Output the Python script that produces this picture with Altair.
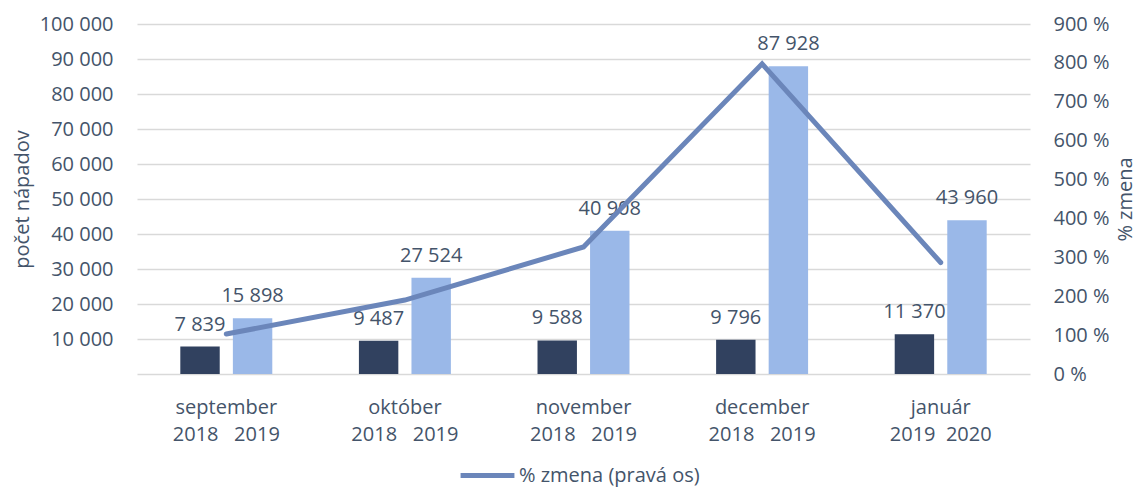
import altair as alt
import pandas as pd

# ---- data ----
months = ["september", "október", "november", "december", "január"]
NB = "\u00a0"
year_pairs = ["2018" + NB * 3 + "2019", "2018" + NB * 3 + "2019", "2018" + NB * 3 + "2019",
              "2018" + NB * 3 + "2019", "2019" + NB * 2 + "2020"]
series = ["predchádzajúci rok", "aktuálny rok"]
prev_values = [7839, 9487, 9588, 9796, 11370]
curr_values = [15898, 27524, 40908, 87928, 43960]
pct_change = [102.8, 190.1, 326.7, 797.6, 286.6]
left_ticks = list(range(0, 100001, 10000))
right_ticks = list(range(0, 901, 100))
legend_label = "% zmena (pravá os)"

# ---- tables ----
cats = [f"{m}|{y}" for m, y in zip(months, year_pairs)]
rows = []
for c, p, v in zip(cats, prev_values, curr_values):
    rows.append({"cat": c, "series": series[0], "value": p})
    rows.append({"cat": c, "series": series[1], "value": v})
bars_df = pd.DataFrame(rows)
line_df = pd.DataFrame({"cat": cats, "pct": pct_change, "leg": [legend_label] * len(cats)})

TEXT = "#44546A"
FONT = "Open Sans"
FS = 20

x_enc = alt.X(
    "cat:N", sort=cats,
    scale=alt.Scale(paddingInner=0.485, paddingOuter=0.2425),
    axis=alt.Axis(title=None, labelExpr="split(datum.label, '|')", labelAngle=0,
                  labelPadding=23, labelLineHeight=27, domain=False, ticks=False,
                  grid=False),
)
xoff = alt.XOffset("series:N", sort=series,
                   scale=alt.Scale(paddingInner=0.25, paddingOuter=0))
y_left = alt.Y(
    "value:Q", scale=alt.Scale(domain=[0, 100000]),
    axis=alt.Axis(title="počet nápadov", values=left_ticks,
                  labelExpr="datum.value == 0 ? '' : replace(format(datum.value, ','), ',', ' ')",
                  labelPadding=24, titlePadding=7, domain=False, ticks=False,
                  grid=True),
)

bars = alt.Chart(bars_df).mark_bar().encode(
    x=x_enc, xOffset=xoff, y=y_left,
    color=alt.Color("series:N", sort=series,
                    scale=alt.Scale(domain=series, range=["#31415F", "#9AB8E8"]),
                    legend=None),
)
labels = alt.Chart(bars_df).transform_calculate(
    lbl="replace(format(datum.value, ','), ',', ' ')"
).mark_text(baseline="alphabetic", dy=-16, fontSize=FS, color=TEXT, font=FONT).encode(
    x=x_enc, xOffset=xoff, y=y_left,
    text="lbl:N",
)
left_layer = alt.layer(bars, labels)

line = alt.Chart(line_df).mark_line(strokeWidth=5, strokeCap="round").encode(
    x=alt.X("cat:N", sort=cats),
    y=alt.Y("pct:Q", scale=alt.Scale(domain=[0, 900]),
            axis=alt.Axis(orient="right", title="% zmena", values=right_ticks,
                          labelExpr="datum.value + ' %'", labelPadding=23,
                          titlePadding=6, titleAngle=270, titleBaseline="top",
                          domain=False, ticks=False, grid=False)),
    color=alt.Color("leg:N", scale=alt.Scale(range=["#6B86BA"]),
                    legend=alt.Legend(title=None, orient="none", legendX=321, legendY=422,
                                      symbolType="stroke", symbolSize=2900,
                                      symbolStrokeWidth=5, labelFontSize=FS,
                                      labelColor=TEXT, labelFont=FONT, labelOffset=2,
                                      labelLimit=400)),
)

chart = alt.layer(left_layer, line).resolve_scale(
    y="independent", color="independent"
).properties(
    width=893, height=350,
    autosize=alt.AutoSizeParams(type="none"),
    padding={"left": 129, "top": 16, "right": 107, "bottom": 113},
).configure_axis(
    labelFont=FONT, titleFont=FONT, labelFontSize=FS, titleFontSize=FS,
    labelColor=TEXT, titleColor=TEXT, titleFontWeight="normal",
    gridColor="#D9D9D9", gridWidth=1.5,
).configure_view(stroke=None)

chart.save("out.html", embed_options={"renderer": "svg", "actions": False})
